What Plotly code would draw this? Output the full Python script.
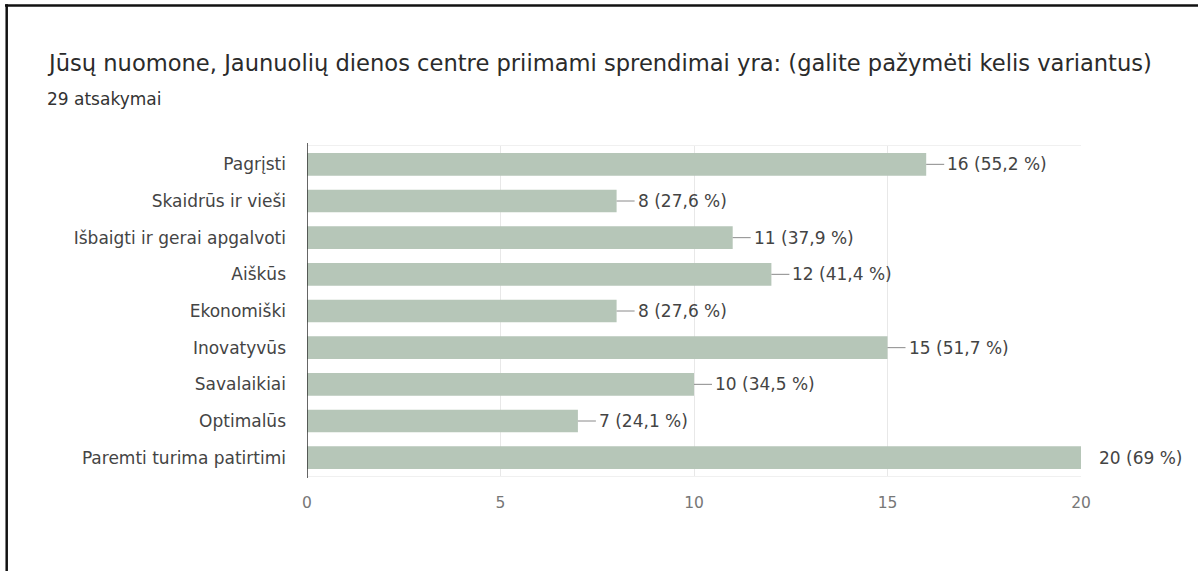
import plotly.graph_objects as go

categories = ["Pagrįsti", "Skaidrūs ir vieši", "Išbaigti ir gerai apgalvoti", "Aiškūs",
              "Ekonomiški", "Inovatyvūs", "Savalaikiai", "Optimalūs", "Paremti turima patirtimi"]
counts = [16, 8, 11, 12, 8, 15, 10, 7, 20]
percent_labels = ["55,2 %", "27,6 %", "37,9 %", "41,4 %", "27,6 %", "51,7 %", "34,5 %", "24,1 %", "69 %"]
x_ticks = [0, 5, 10, 15, 20]

title_text = "Jūsų nuomone, Jaunuolių dienos centre priimami sprendimai yra: (galite pažymėti kelis variantus)"
subtitle_text = "29 atsakymai"

BAR_COLOR = "#b6c6b8"
FONT = "DejaVu Sans"
W, H = 1198, 571
ML, MR, MT, MB = 307, 117, 146, 95
PW = W - ML - MR
PH = H - MT - MB

def px_to_paper_x(px):
    return (px - ML) / PW

def px_to_paper_y(py):
    return (H - MB - py) / PH

fig = go.Figure()
fig.add_trace(go.Bar(
    x=counts, y=categories, orientation="h",
    marker=dict(color=BAR_COLOR, line=dict(width=0)),
    width=0.62, hoverinfo="skip",
))

shapes = []
annotations = []
xmax = max(x_ticks)
for cat, c, p in zip(categories, counts, percent_labels):
    text = f"{c} ({p})"
    if c < xmax:
        shapes.append(dict(type="line", xref="x", yref="y", xsizemode="pixel", xanchor=c,
                           x0=0, x1=18, y0=cat, y1=cat,
                           line=dict(color="#8a8a8a", width=1)))
        shift = 19
    else:
        shift = 16
    annotations.append(dict(x=c, y=cat, xref="x", yref="y", text=text, showarrow=False,
                            xanchor="left", yanchor="middle", xshift=shift,
                            font=dict(family=FONT, size=17, color="#444444")))

# title & subtitle
annotations.append(dict(x=px_to_paper_x(45), y=px_to_paper_y(63), xref="paper", yref="paper",
                        text=title_text, showarrow=False, xanchor="left", yanchor="middle",
                        font=dict(family=FONT, size=22.6, color="#2b2b2b")))
annotations.append(dict(x=px_to_paper_x(45), y=px_to_paper_y(99), xref="paper", yref="paper",
                        text=subtitle_text, showarrow=False, xanchor="left", yanchor="middle",
                        font=dict(family=FONT, size=17, color="#333333")))

# frame lines (top and left)
shapes.append(dict(type="line", xref="paper", yref="paper",
                   x0=px_to_paper_x(5), x1=px_to_paper_x(1200), y0=px_to_paper_y(5.5), y1=px_to_paper_y(5.5),
                   line=dict(color="#111111", width=2.5)))
shapes.append(dict(type="line", xref="paper", yref="paper",
                   x0=px_to_paper_x(6.7), x1=px_to_paper_x(6.7), y0=px_to_paper_y(4.3), y1=px_to_paper_y(575),
                   line=dict(color="#111111", width=2.5)))
# dark baseline at x=0
shapes.append(dict(type="line", xref="x", yref="paper", x0=0, x1=0,
                   y0=px_to_paper_y(478), y1=px_to_paper_y(143),
                   line=dict(color="#333333", width=1.5)))

fig.update_layout(
    width=W, height=H,
    margin=dict(l=ML, r=MR, t=MT, b=MB, pad=0),
    paper_bgcolor="white", plot_bgcolor="white",
    showlegend=False,
    shapes=shapes,
    annotations=annotations,
    xaxis=dict(range=[0, xmax], tickvals=x_ticks, showgrid=True, gridcolor="#e8e8e8", gridwidth=1,
               zeroline=False, showline=True, mirror=True, linecolor="#f0f0f0",
               tickfont=dict(family=FONT, size=15.5, color="#777777"),
               ticklabelstandoff=12, fixedrange=True),
    yaxis=dict(categoryorder="array", categoryarray=categories, autorange="reversed",
               showgrid=False, zeroline=False, showline=False,
               tickfont=dict(family=FONT, size=17, color="#444444"),
               ticklabelstandoff=20, fixedrange=True),
)

fig.write_html("out.html", config={"displayModeBar": False},
               post_script="document.body.style.margin='0px';document.body.style.overflow='hidden';")
